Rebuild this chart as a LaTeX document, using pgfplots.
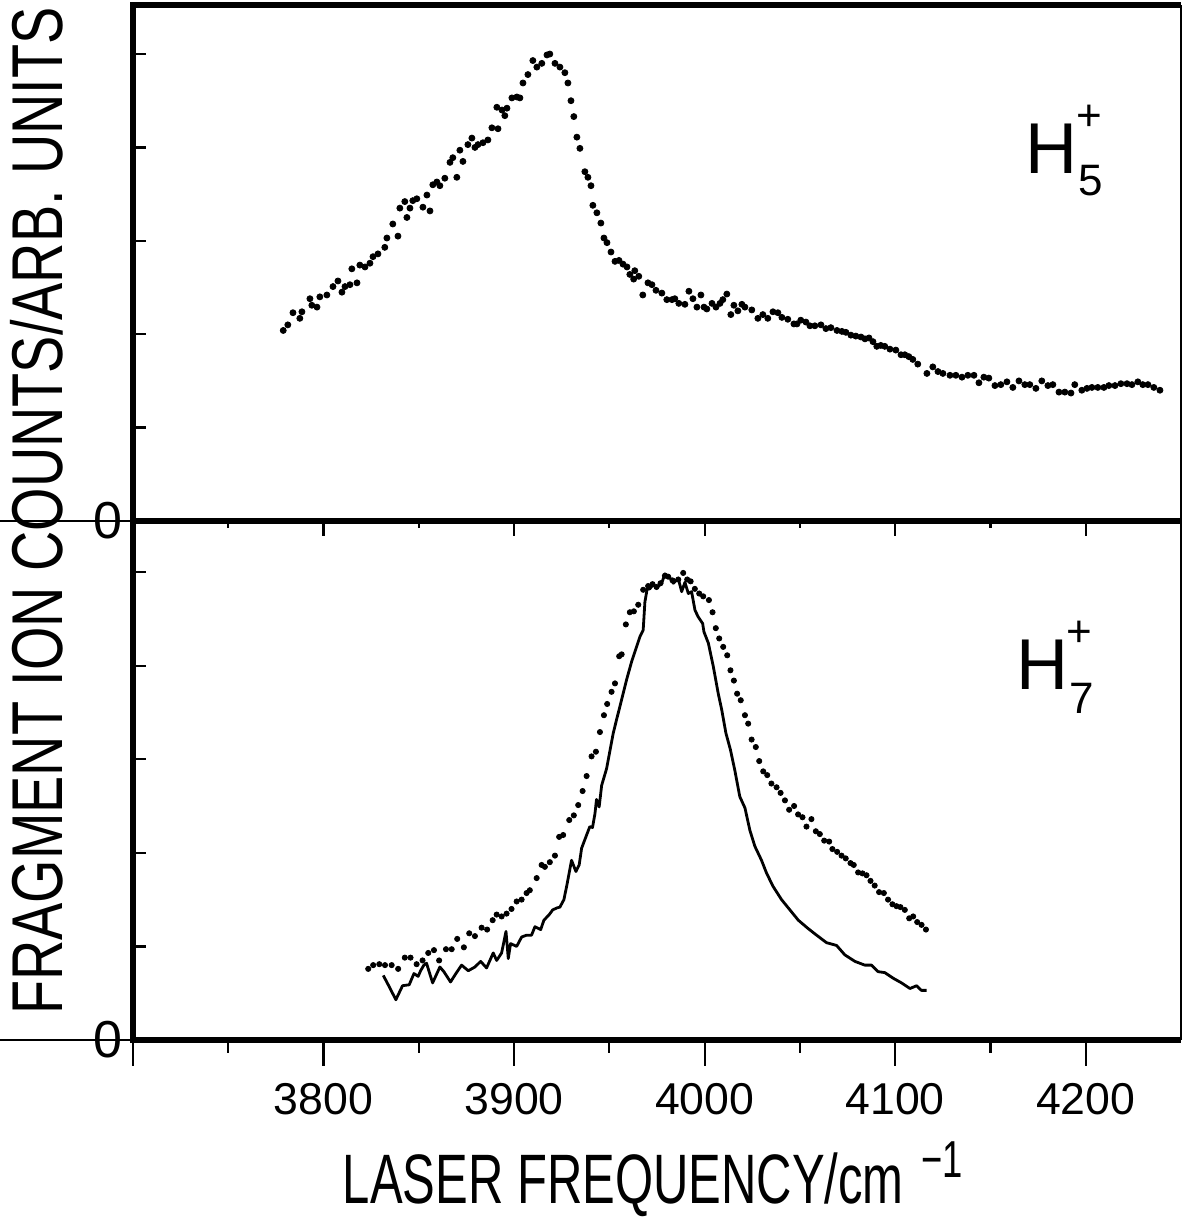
\documentclass[border=0pt]{standalone}
\usepackage{fontspec}
\setmainfont{Liberation Sans}
\newfontfamily\ylabfont[FakeStretch=0.775]{Liberation Sans}
\newfontfamily\xlabfont[FakeStretch=0.70]{Liberation Sans}
\usepackage{pgfplots}
\usepackage{pgfplotstable}
\pgfplotsset{compat=1.18}

% H5+ fragment spectrum (dots, upper panel)
\pgfplotstableread{
x y
3778.9 2.04
3781.3 2.10
3784.0 2.23
3787.6 2.17
3788.7 2.24
3792.9 2.38
3793.9 2.31
3796.6 2.29
3798.1 2.40
3801.8 2.42
3805.0 2.51
3807.6 2.57
3809.7 2.45
3811.3 2.51
3813.9 2.53
3814.9 2.70
3817.6 2.55
3819.1 2.74
3821.8 2.72
3824.4 2.76
3826.0 2.83
3828.6 2.86
3832.2 2.93
3833.3 3.03
3836.4 3.18
3839.1 3.05
3840.1 3.35
3842.7 3.42
3843.8 3.25
3845.4 3.35
3846.9 3.43
3849.0 3.45
3852.2 3.36
3854.3 3.49
3855.9 3.32
3857.4 3.60
3859.5 3.63
3861.1 3.59
3863.7 3.67
3866.4 3.84
3867.9 3.89
3870.0 3.68
3871.6 3.97
3873.2 3.85
3875.8 4.03
3877.9 4.10
3879.5 4.00
3881.1 4.03
3883.7 4.05
3886.3 4.08
3888.4 4.21
3891.0 4.43
3891.6 4.20
3893.7 4.40
3895.2 4.34
3896.3 4.42
3898.9 4.53
3901.5 4.54
3903.1 4.53
3904.7 4.69
3907.3 4.78
3909.9 4.93
3912.0 4.86
3914.6 4.90
3917.3 4.99
3918.8 5.00
3921.5 4.90
3924.1 4.86
3926.7 4.80
3928.3 4.69
3929.9 4.50
3931.4 4.33
3933.0 4.11
3934.6 3.99
3937.2 3.74
3938.8 3.68
3940.4 3.59
3941.4 3.38
3943.5 3.30
3945.6 3.19
3947.2 3.03
3948.8 2.98
3950.9 2.88
3953.0 2.78
3955.1 2.79
3957.2 2.75
3959.3 2.72
3960.8 2.64
3962.8 2.59
3963.4 2.68
3965.5 2.62
3967.6 2.42
3970.3 2.55
3972.4 2.53
3974.5 2.47
3977.6 2.44
3980.2 2.37
3982.9 2.37
3984.4 2.38
3986.5 2.33
3989.7 2.32
3991.8 2.46
3993.9 2.38
3996.0 2.29
3998.1 2.42
3999.7 2.29
4001.2 2.27
4003.9 2.33
4006.0 2.29
4008.1 2.33
4009.6 2.37
4011.7 2.43
4013.8 2.21
4015.4 2.31
4017.5 2.25
4019.6 2.32
4021.2 2.29
4024.8 2.26
4028.0 2.17
4030.6 2.21
4033.2 2.17
4035.9 2.24
4038.5 2.23
4040.6 2.18
4043.7 2.16
4046.9 2.11
4048.5 2.11
4050.5 2.15
4053.2 2.13
4055.3 2.09
4057.9 2.09
4061.1 2.10
4063.7 2.06
4066.3 2.07
4069.5 2.04
4072.1 2.03
4074.2 2.02
4076.8 1.99
4079.4 1.98
4082.1 1.97
4084.2 1.95
4086.3 1.96
4088.4 1.92
4090.4 1.87
4092.5 1.88
4094.6 1.87
4097.3 1.84
4100.4 1.83
4103.1 1.78
4105.1 1.78
4107.2 1.76
4109.3 1.73
4111.9 1.68
4116.7 1.58
4119.8 1.65
4122.5 1.60
4125.1 1.58
4128.8 1.56
4131.9 1.56
4135.1 1.54
4138.2 1.56
4141.4 1.56
4144.0 1.48
4146.6 1.54
4149.2 1.53
4152.4 1.45
4155.5 1.46
4158.7 1.49
4161.8 1.43
4165.0 1.50
4168.1 1.46
4170.7 1.46
4173.9 1.42
4177.0 1.50
4180.2 1.45
4182.8 1.46
4186.0 1.38
4189.1 1.38
4192.3 1.37
4194.3 1.46
4198.0 1.40
4200.7 1.42
4203.3 1.43
4206.4 1.43
4209.6 1.43
4212.2 1.45
4215.4 1.45
4218.5 1.47
4221.7 1.47
4224.3 1.46
4227.4 1.49
4230.0 1.46
4232.7 1.46
4235.8 1.43
4239.0 1.40
}\hfivedots

% H7+ fragment spectrum (dots, lower panel)
\pgfplotstableread{
x y
3823.5 0.76
3826.1 0.80
3829.3 0.81
3832.3 0.80
3835.8 0.80
3839.2 0.76
3842.7 0.88
3845.7 0.88
3848.9 0.81
3852.0 0.85
3855.0 0.93
3858.0 0.96
3860.7 0.85
3864.3 0.97
3867.3 0.97
3870.2 1.08
3873.7 0.99
3876.5 1.14
3879.5 1.11
3883.0 1.20
3885.9 1.18
3888.8 1.28
3890.9 1.34
3893.5 1.32
3896.1 1.35
3898.7 1.40
3901.4 1.48
3904.0 1.50
3906.6 1.57
3908.3 1.60
3911.9 1.73
3914.5 1.87
3916.2 1.85
3918.8 1.90
3921.5 1.97
3923.7 2.17
3925.8 2.19
3929.0 2.35
3931.4 2.40
3933.7 2.51
3936.0 2.66
3938.1 2.82
3940.7 3.03
3943.0 3.08
3945.1 3.29
3947.2 3.47
3948.9 3.59
3951.2 3.72
3953.0 3.81
3955.2 4.10
3956.5 4.12
3958.7 4.44
3960.8 4.57
3962.9 4.58
3965.2 4.65
3967.8 4.81
3970.4 4.85
3972.7 4.87
3974.8 4.84
3976.9 4.88
3979.2 4.96
3980.9 4.95
3983.2 4.91
3986.2 4.92
3988.8 4.99
3990.9 4.92
3992.7 4.90
3994.9 4.82
3997.2 4.77
3999.3 4.74
4002.3 4.70
4004.2 4.57
4005.9 4.40
4007.7 4.29
4009.8 4.20
4011.9 4.11
4013.6 3.95
4015.4 3.84
4017.1 3.70
4019.0 3.63
4021.2 3.47
4022.9 3.38
4024.7 3.21
4026.9 3.13
4028.7 2.98
4030.8 2.87
4032.9 2.83
4035.1 2.74
4037.8 2.70
4039.9 2.64
4042.2 2.56
4044.4 2.46
4047.0 2.50
4049.1 2.41
4051.4 2.38
4053.5 2.28
4056.1 2.36
4058.4 2.23
4060.5 2.20
4062.8 2.13
4065.4 2.12
4067.1 2.04
4069.6 2.01
4071.9 1.97
4074.1 1.94
4076.6 1.89
4078.3 1.87
4080.6 1.79
4082.9 1.78
4085.0 1.76
4087.1 1.70
4089.3 1.65
4091.6 1.58
4094.1 1.57
4096.3 1.50
4098.6 1.45
4100.7 1.43
4102.8 1.42
4105.1 1.39
4107.4 1.30
4109.5 1.32
4111.6 1.26
4113.9 1.23
4116.2 1.18
}\hsevendots

% H7+ second spectrum (solid line, lower panel)
\pgfplotstableread{
x y
3831.4 0.69
3834.5 0.57
3838.0 0.43
3841.5 0.58
3845.0 0.59
3847.5 0.71
3849.7 0.68
3851.0 0.74
3852.7 0.80
3854.1 0.82
3857.3 0.61
3861.1 0.78
3863.2 0.73
3866.7 0.62
3869.5 0.71
3872.5 0.80
3876.0 0.74
3879.5 0.78
3882.5 0.84
3885.6 0.77
3889.1 0.93
3890.9 0.85
3893.5 0.93
3895.8 1.16
3897.0 0.87
3898.2 1.03
3901.4 1.00
3904.0 1.10
3906.6 1.12
3909.2 1.12
3911.0 1.21
3914.0 1.18
3915.7 1.28
3918.5 1.34
3920.3 1.39
3922.4 1.41
3924.1 1.42
3926.2 1.50
3927.9 1.67
3930.2 1.92
3932.5 1.80
3934.2 1.87
3935.5 2.05
3938.1 2.19
3939.8 2.28
3941.2 2.27
3942.5 2.42
3943.3 2.57
3944.7 2.49
3946.0 2.72
3948.6 2.90
3952.1 3.28
3953.8 3.42
3956.4 3.63
3959.1 3.85
3961.7 4.04
3964.3 4.20
3966.1 4.31
3967.8 4.38
3968.7 4.68
3969.9 4.82
3971.3 4.82
3973.1 4.87
3974.8 4.83
3977.5 4.88
3979.2 4.98
3981.5 4.95
3983.6 4.88
3986.2 4.93
3988.0 4.79
3989.7 4.89
3991.5 4.77
3993.2 4.79
3995.0 4.59
3996.7 4.52
3999.0 4.45
3999.7 4.36
4002.0 4.24
4004.6 3.99
4007.2 3.70
4009.0 3.53
4011.2 3.28
4013.6 3.10
4015.9 2.88
4018.5 2.60
4021.2 2.48
4023.8 2.24
4026.4 2.07
4029.9 1.92
4032.6 1.78
4036.0 1.64
4040.4 1.50
4044.8 1.39
4049.2 1.28
4054.4 1.19
4058.8 1.12
4064.0 1.04
4069.3 1.01
4073.6 0.91
4078.9 0.84
4084.1 0.80
4087.6 0.80
4091.1 0.73
4094.6 0.72
4099.0 0.66
4103.4 0.61
4107.8 0.55
4111.3 0.58
4113.8 0.53
4116.5 0.53
}\hsevenline

\begin{document}
\begin{tikzpicture}
\tikzset{panelframe/.style={line width=3.2pt, line join=miter}}
\pgfplotsset{
  panel/.style={scale only axis, width=524pt, xmin=3700, xmax=4250, ymin=0,
    clip=false, axis line style={draw=none},
    tick style={line width=1.1pt, black}},
  dataaxis/.style={panel, xtick=\empty, ytick={0,1,2,3,4,5},
    yticklabels={0,,,,,}, ytick pos=left, tick align=inside,
    major tick length=6.5pt,
    yticklabel style={anchor=east, inner sep=0pt, xshift=-5pt,
      font=\fontsize{26}{26}\selectfont}},
  tickaxis/.style={panel, ytick=\empty, xtick={3700,3800,...,4200},
    minor xtick={3750,3850,...,4150}, xtick pos=left, tick align=outside},
}
% ---- lower panel: H7+
\begin{axis}[dataaxis, at={(0,0)}, anchor=south west, height=259.5pt, ymax=5.545]
  \addplot[only marks, mark=*, mark size=1.3pt, black] table {\hsevendots};
  \addplot[black, line width=1.4pt, line join=round, mark=none] table {\hsevenline};
  \draw[panelframe] (rel axis cs:1,1) -- (rel axis cs:0,1) -- (rel axis cs:0,0) -- (rel axis cs:1,0);
  \draw[line width=1pt] (rel axis cs:1,0) -- (rel axis cs:1,1);
  \draw[line width=1.1pt] (rel axis cs:0,0) -- ++(-5pt,0);
\end{axis}
\begin{axis}[tickaxis, at={(0,0)}, anchor=south west, height=259.5pt, ymax=5.545,
    major tick length=13pt, minor tick length=6.5pt,
    xticklabels={,3800,3900,4000,4100,4200},
    xticklabel style={anchor=north, inner sep=0pt, yshift=-8.5pt,
      font=\fontsize{22.3}{22.3}\selectfont}]
\end{axis}
% ---- upper panel: H5+
\begin{axis}[dataaxis, at={(0,259.5pt)}, anchor=south west, height=258pt, ymax=5.525]
  \addplot[only marks, mark=*, mark size=1.5pt, black] table {\hfivedots};
  \draw[panelframe] (rel axis cs:1,1) -- (rel axis cs:0,1) -- (rel axis cs:0,0) -- (rel axis cs:1,0);
  \draw[line width=1pt] (rel axis cs:1,0) -- (rel axis cs:1,1);
  \draw[line width=1.1pt] (rel axis cs:0,0) -- ++(-5pt,0);
\end{axis}
\begin{axis}[tickaxis, at={(0,259.5pt)}, anchor=south west, height=258pt, ymax=5.525,
    major tick length=7.5pt, minor tick length=3.5pt,
    xticklabels={,,,,,}]
\end{axis}

% panel labels
\node[inner sep=0pt, font=\fontsize{36}{36}\selectfont] at (459pt,445.5pt) {H};
\node[inner sep=0pt, font=\fontsize{22}{22}\selectfont] at (478pt,461pt) {+};
\node[inner sep=0pt, font=\fontsize{22}{22}\selectfont] at (479pt,429.5pt) {5};
\node[inner sep=0pt, font=\fontsize{36}{36}\selectfont] at (454.5pt,187.5pt) {H};
\node[inner sep=0pt, font=\fontsize{22}{22}\selectfont] at (473pt,203pt) {+};
\node[inner sep=0pt, font=\fontsize{22}{22}\selectfont] at (474.5pt,171pt) {7};

% axis titles
\node[rotate=90, inner sep=0pt, font=\ylabfont\fontsize{36}{36}\selectfont]
  at (-48pt,264.5pt) {FRAGMENT ION COUNTS/ARB. UNITS};
\node[inner sep=0pt, anchor=base, font=\xlabfont\fontsize{35}{35}\selectfont]
  at (260pt,-81.5pt) {LASER FREQUENCY/cm\hspace{9pt}\raisebox{13pt}{\fontsize{26}{26}\selectfont\char"2212 1}};

\pgfresetboundingbox
\path[use as bounding box] (-66.5pt,-89.5pt) rectangle (525pt,520pt);
\end{tikzpicture}
\end{document}
